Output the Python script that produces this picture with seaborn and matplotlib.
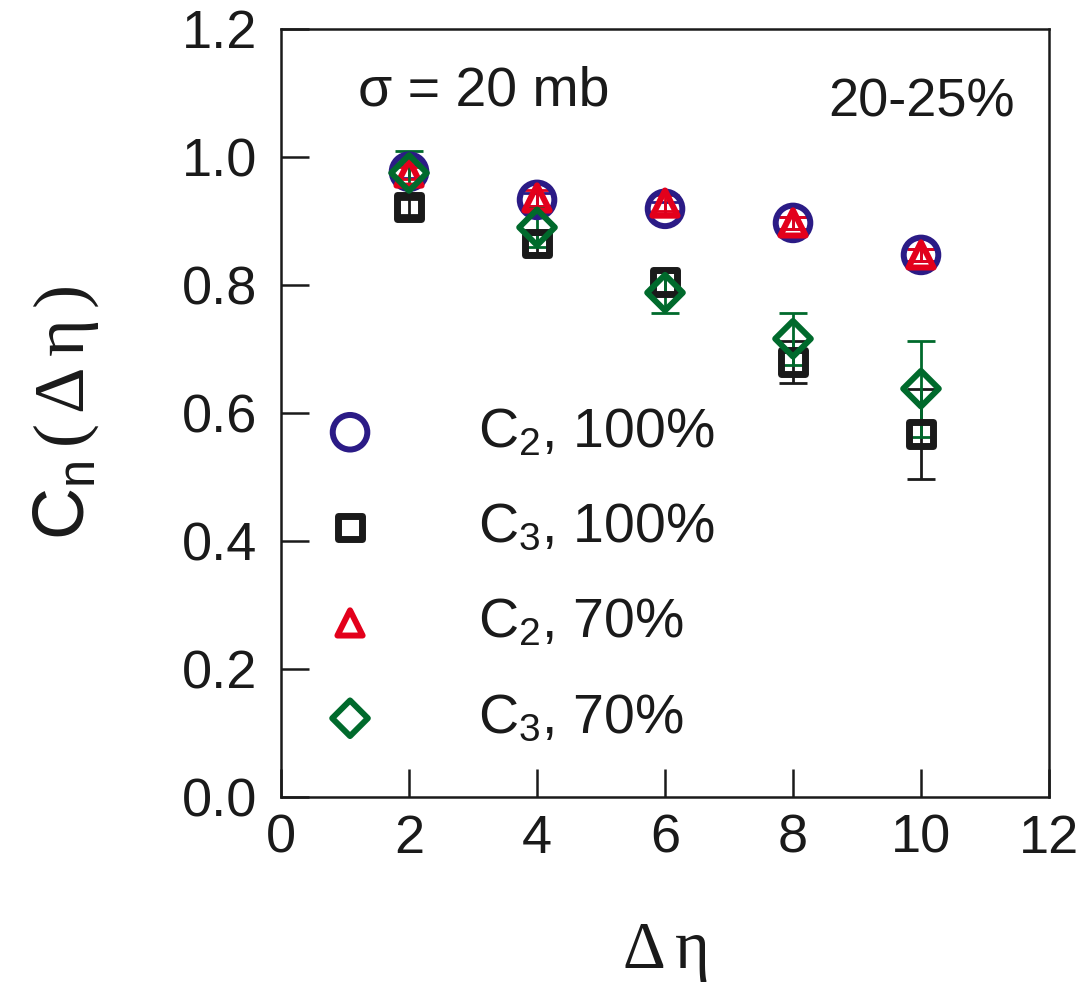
import matplotlib
matplotlib.use("Agg")
import matplotlib.pyplot as plt
import seaborn as sns
import pandas as pd

# Correlation C_n(Δη) vs pseudorapidity gap, 20-25% centrality, σ = 20 mb
deta = [2, 4, 6, 8, 10]

c2_100 = [0.977, 0.933, 0.919, 0.897, 0.847]
c2_100_err = [0.010, 0.010, 0.010, 0.010, 0.010]

c3_100 = [0.922, 0.865, 0.805, 0.680, 0.567]
c3_100_err = [0.012, 0.015, 0.020, 0.033, 0.070]

c2_70 = [0.975, 0.936, 0.928, 0.897, 0.847]
c2_70_err = [0.010, 0.012, 0.012, 0.010, 0.010]

c3_70 = [0.975, 0.890, 0.788, 0.716, 0.638]
c3_70_err = [0.034, 0.030, 0.032, 0.041, 0.075]

labels = [r"C$_2$, 100%", r"C$_3$, 100%", r"C$_2$, 70%", r"C$_3$, 70%"]
yticks = [0.0, 0.2, 0.4, 0.6, 0.8, 1.0, 1.2]
ytick_labels = ["0.0", "0.2", "0.4", "0.6", "0.8", "1.0", "1.2"]
xticks = [0, 2, 4, 6, 8, 10, 12]

sns.set_theme(style="white")
plt.rcParams["font.family"] = ["Liberation Sans", "DejaVu Sans"]
plt.rcParams["mathtext.fontset"] = "custom"
plt.rcParams["mathtext.rm"] = "Liberation Sans"
plt.rcParams["mathtext.it"] = "Liberation Sans"
plt.rcParams["mathtext.sf"] = "Liberation Serif"

INK = "#1A1A1A"

series = [
    # values, errors, label, marker, colour, marker size (pt^2), edge width
    (c2_100, c2_100_err, labels[0], "o", "#2B1B86", 620, 4.3),
    (c3_100, c3_100_err, labels[1], "s", INK, 290, 5.0),
    (c2_70, c2_70_err, labels[2], "^", "#E3001B", 330, 4.3),
    (c3_70, c3_70_err, labels[3], "D", "#006A2C", 330, 4.3),
]

fig = plt.figure(figsize=(10.83, 9.89), dpi=100)
ax = fig.add_axes([0.2595, 0.1941, 0.7091, 0.7766])

for vals, errs, lab, mk, col, size, lw in series:
    df = pd.DataFrame({"deta": deta, "cn": vals})
    ax.errorbar(df["deta"], df["cn"], yerr=errs, fmt="none", ecolor=col,
                elinewidth=2.0, capsize=10, capthick=2.0, zorder=2)
    sns.scatterplot(data=df, x="deta", y="cn", marker=mk, s=size,
                    facecolors="none", edgecolor=col, linewidth=lw,
                    label=lab, ax=ax, zorder=3)

ax.set_xlim(0, 12)
ax.set_ylim(0, 1.2)
ax.set_xticks(xticks)
ax.set_yticks(yticks)
ax.set_yticklabels(ytick_labels)

for s in ax.spines.values():
    s.set_linewidth(1.8)
    s.set_color(INK)

ax.tick_params(axis="both", which="both", direction="in", length=20,
               width=1.8, color=INK, labelsize=39, labelcolor=INK,
               top=False, right=False, bottom=True, left=True)
ax.tick_params(axis="y", pad=17)
ax.tick_params(axis="x", pad=12)

ax.set_xlabel(r"$\mathsf{\Delta\,\eta}$", fontsize=48, labelpad=42, color=INK)
ax.set_ylabel(r"C$_\mathregular{n}$$\mathsf{\,(\,\Delta\,\eta\,)}$",
              fontsize=52, labelpad=58, color=INK)

ax.text(0.10, 0.918, "σ = 20 mb", transform=ax.transAxes, fontsize=40,
        color=INK, va="center", ha="left")
ax.text(0.955, 0.904, "20-25%", transform=ax.transAxes, fontsize=39,
        color=INK, va="center", ha="right")

leg = ax.legend(loc="center left", bbox_to_anchor=(0.0175, 0.288),
                frameon=False, fontsize=40, borderpad=0, borderaxespad=0,
                handlelength=2.0, handletextpad=1.3, labelspacing=0.78)
for t in leg.get_texts():
    t.set_color(INK)

fig.savefig("out.png", dpi=100)
